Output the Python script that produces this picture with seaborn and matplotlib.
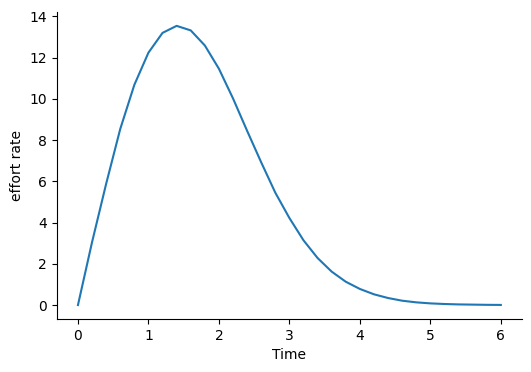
import matplotlib
matplotlib.use("Agg")
import matplotlib.pyplot as plt
import seaborn as sns
import pandas as pd

time = [0.0, 0.2, 0.4, 0.6, 0.8, 1.0, 1.2, 1.4, 1.6, 1.8, 2.0,
        2.2, 2.4, 2.6, 2.8, 3.0, 3.2, 3.4, 3.6, 3.8, 4.0,
        4.2, 4.4, 4.6, 4.8, 5.0, 5.2, 5.4, 5.6, 5.8, 6.0]
effort = [0.0, 3.05, 5.88, 8.54, 10.68, 12.24, 13.2, 13.54, 13.32, 12.59, 11.46,
          10.02, 8.45, 6.92, 5.45, 4.22, 3.14, 2.28, 1.62, 1.13, 0.78,
          0.52, 0.34, 0.21, 0.13, 0.08, 0.05, 0.03, 0.02, 0.01, 0.005]

df = pd.DataFrame({"Time": time, "effort rate": effort})

fig = plt.figure(figsize=(5.31, 3.72), dpi=100)
ax = fig.add_axes([0.107, 0.1425, 0.876, 0.8255])
sns.lineplot(data=df, x="Time", y="effort rate", ax=ax, color="#1f77b4", linewidth=1.5)
sns.despine(ax=ax)
fig.savefig("out.png", dpi=100)
